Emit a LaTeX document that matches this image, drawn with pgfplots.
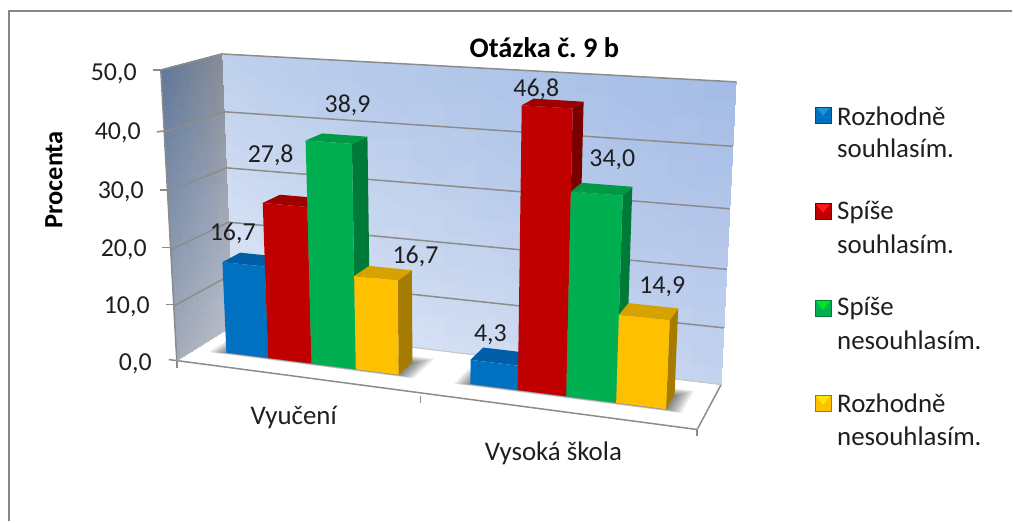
\documentclass[border=0pt]{standalone}
\usepackage{pgfplots}
\pgfplotsset{compat=1.18}
\usepgfplotslibrary{patchplots}
\usepackage{fontspec}
\setmainfont{Carlito}
\frenchspacing
% wall and floor tones
\definecolor{bwTL}{HTML}{BDCFEC}
\definecolor{bwTR}{HTML}{A3BBE6}
\definecolor{bwBL}{HTML}{DFE8F6}
\definecolor{bwBR}{HTML}{C3D2EE}
\definecolor{lwTF}{HTML}{5F7799}
\definecolor{lwTB}{HTML}{868B97}
\definecolor{lwBF}{HTML}{A3ABBA}
\definecolor{lwBB}{HTML}{B8BDC9}
\definecolor{gridc}{HTML}{8C8C8C}
\definecolor{frameC}{HTML}{868686}
% bars: front, top, side
\definecolor{bF}{HTML}{0070C0}\definecolor{bT}{HTML}{005EA6}\definecolor{bS}{HTML}{004A84}
\definecolor{rF}{HTML}{C00000}\definecolor{rT}{HTML}{9E0000}\definecolor{rS}{HTML}{7A0000}
\definecolor{gF}{HTML}{00B050}\definecolor{gT}{HTML}{009A46}\definecolor{gS}{HTML}{007A38}
\definecolor{yF}{HTML}{FFC000}\definecolor{yT}{HTML}{D6A200}\definecolor{yS}{HTML}{A67C00}
% u along the categories, d into the depth, w is the percentage
\pgfplotsset{/pgfplots/table/mapped/.style={row sep=\\,x expr={mapx(\thisrow{u},\thisrow{d},\thisrow{w})},y expr={mapy(\thisrow{u},\thisrow{d},\thisrow{w})}}}
\newcommand\cuboid[6]{% u0,u1,value,front,top,side
 \addplot[fill=#6,draw=none,no markers] table[mapped] {u d w\\ #2 0.34 0\\ #2 0.66 0\\ #2 0.66 #3\\ #2 0.34 #3\\};
 \addplot[fill=#5,draw=none,no markers] table[mapped] {u d w\\ #1 0.34 #3\\ #2 0.34 #3\\ #2 0.66 #3\\ #1 0.66 #3\\};
 \addplot[fill=#4,draw=none,no markers] table[mapped] {u d w\\ #1 0.34 0\\ #2 0.34 0\\ #2 0.34 #3\\ #1 0.34 #3\\};
}
\newcommand\shadowlayer[4]{%
 \addplot[fill=black,fill opacity=0.07,draw=none,no markers] table[mapped] {u d w\\ #1 #3 0\\ #2 #3 0\\ #2 #4 0\\ #1 #4 0\\};
}
\newcommand\wallline[6]{%
 \addplot[gridc,line width=1.5pt,no markers] table[mapped] {u d w\\ #1 #2 #3\\ #4 #5 #6\\};
}
\newcommand\legsq[4]{% y centre, front, light, dark
 \fill[#2] (axis cs:816,#1-8) rectangle (axis cs:832,#1+8);
 \fill[#3] (axis cs:817,#1-7.5) -- (axis cs:831,#1-7.5) -- (axis cs:824,#1+1) -- cycle;
 \draw[#4,line width=0.6pt] (axis cs:816,#1-8) rectangle (axis cs:832,#1+8);
}
\begin{document}
\begin{tikzpicture}
\begin{axis}[scale only axis,width=1013bp,height=522bp,xmin=0,xmax=1013,ymin=0,ymax=522,y dir=reverse,hide axis,clip=false,
 axis background/.style={fill=white},
 declare function={
  warp(\w)=(\w/50)-0.08*(\w/50)*(1-\w/50);
  mapx(\u,\d,\w)=(1-warp(\w))*((1-\d)*((1-\u)*177+\u*698)+\d*((1-\u)*233+\u*722))+warp(\w)*((1-\d)*((1-\u)*161+\u*713)+\d*((1-\u)*222+\u*737));
  mapy(\u,\d,\w)=(1-warp(\w))*((1-\d)*((1-\u)*361+\u*430)+\d*((1-\u)*326+\u*385))+warp(\w)*((1-\d)*((1-\u)*70+\u*103)+\d*((1-\u)*54+\u*82));
 }]
% outer frame, cropped by the picture at right and bottom
\draw[frameC,line width=2.4pt] (axis cs:9,522) -- (axis cs:9,11) -- (axis cs:1013,11);
% walls
\addplot[patch,patch type=rectangle,shader=interp,mesh/color input=explicit,point meta=explicit symbolic]
 table[mapped,meta=c]
 {u d w c\\ 0 1 0 color=bwBL\\ 1 1 0 color=bwBR\\ 1 1 50 color=bwTR\\ 0 1 50 color=bwTL\\};
\addplot[patch,patch type=rectangle,shader=interp,mesh/color input=explicit,point meta=explicit symbolic]
 table[mapped,meta=c]
 {u d w c\\ 0 0 0 color=lwBF\\ 0 1 0 color=lwBB\\ 0 1 50 color=lwTB\\ 0 0 50 color=lwTF\\};
% gridlines: back wall and left wall
\wallline{0}{1}{10}{1}{1}{10}
\wallline{0}{1}{20}{1}{1}{20}
\wallline{0}{1}{30}{1}{1}{30}
\wallline{0}{1}{40}{1}{1}{40}
\wallline{0}{1}{50}{1}{1}{50}
\wallline{0}{0}{10}{0}{1}{10}
\wallline{0}{0}{20}{0}{1}{20}
\wallline{0}{0}{30}{0}{1}{30}
\wallline{0}{0}{40}{0}{1}{40}
\wallline{0}{0}{50}{0}{1}{50}
\wallline{0}{0}{0}{0}{0}{50}
% floor edges
\wallline{0}{0}{0}{1}{0}{0}
\wallline{1}{0}{0}{1}{1}{0}
\addplot[gridc!50,line width=1pt,no markers] table[mapped] {u d w\\ 0 1 0\\ 1 1 0\\};
\addplot[gridc!60,line width=1pt,no markers] table[mapped] {u d w\\ 0 0 0\\ 0 1 0\\};
% shadows on the floor
\shadowlayer{0.030}{0.430}{0.30}{0.80}
\shadowlayer{0.034}{0.426}{0.305}{0.78}
\shadowlayer{0.038}{0.422}{0.31}{0.76}
\shadowlayer{0.042}{0.418}{0.315}{0.74}
\shadowlayer{0.046}{0.414}{0.32}{0.72}
\shadowlayer{0.050}{0.410}{0.325}{0.70}
\shadowlayer{0.054}{0.406}{0.33}{0.68}
\shadowlayer{0.058}{0.402}{0.335}{0.66}
\shadowlayer{0.510}{0.955}{0.30}{0.80}
\shadowlayer{0.514}{0.951}{0.305}{0.78}
\shadowlayer{0.518}{0.947}{0.31}{0.76}
\shadowlayer{0.522}{0.943}{0.315}{0.74}
\shadowlayer{0.526}{0.939}{0.32}{0.72}
\shadowlayer{0.530}{0.935}{0.325}{0.70}
\shadowlayer{0.534}{0.931}{0.33}{0.68}
\shadowlayer{0.538}{0.927}{0.335}{0.66}
% bars
\cuboid{0.060}{0.142}{16.7}{bF}{bT}{bS}
\cuboid{0.142}{0.227}{27.8}{rF}{rT}{rS}
\cuboid{0.227}{0.314}{38.9}{gF}{gT}{gS}
\cuboid{0.314}{0.398}{16.7}{yF}{yT}{yS}
\cuboid{0.539}{0.632}{4.3}{bF}{bT}{bS}
\cuboid{0.632}{0.727}{46.8}{rF}{rT}{rS}
\cuboid{0.727}{0.825}{34.0}{gF}{gT}{gS}
\cuboid{0.825}{0.923}{14.9}{yF}{yT}{yS}
% axis ticks
\draw[gridc,line width=1.5pt] (axis cs:153,70) -- (axis cs:161,70);
\draw[gridc,line width=1.5pt] (axis cs:157,132) -- (axis cs:165,131);
\draw[gridc,line width=1.5pt] (axis cs:160,190) -- (axis cs:168,190);
\draw[gridc,line width=1.5pt] (axis cs:162,248) -- (axis cs:171,248);
\draw[gridc,line width=1.5pt] (axis cs:166,305) -- (axis cs:174,305);
\draw[gridc,line width=1.5pt] (axis cs:169,360) -- (axis cs:177,361);
\draw[gridc,line width=1.5pt] (axis cs:177,361) -- (axis cs:177,368);
\draw[gridc,line width=1.5pt] (axis cs:421,396) -- (axis cs:421,403);
\draw[gridc,line width=1.5pt] (axis cs:698,430) -- (axis cs:698,437);
% texts
\tikzset{t/.style={inner sep=0pt,text=black!88,font=\fontsize{26}{26}\selectfont},
 w/.style={inner sep=0pt,text=black!88,font=\fontsize{27}{27}\selectfont}}
\node[t,anchor=east] at (axis cs:137,74) {50,0};
\node[t,anchor=east] at (axis cs:141,133) {40,0};
\node[t,anchor=east] at (axis cs:144,192) {30,0};
\node[t,anchor=east] at (axis cs:147,250) {20,0};
\node[t,anchor=east] at (axis cs:150,307) {10,0};
\node[t,anchor=east] at (axis cs:152,364) {0,0};
\node[t] at (axis cs:233,234) {16,7};
\node[t] at (axis cs:271,155) {27,8};
\node[t] at (axis cs:348,105) {38,9};
\node[t] at (axis cs:416,257) {16,7};
\node[t] at (axis cs:491,335) {4,3};
\node[t] at (axis cs:537,89) {46,8};
\node[t] at (axis cs:613,160) {34,0};
\node[t] at (axis cs:663,287) {14,9};
\node[w] at (axis cs:294,418) {Vyučení};
\node[w] at (axis cs:554,454) {Vysoká škola};
\node[inner sep=0pt,text=black,font=\fontsize{28.5}{29}\selectfont\bfseries] at (axis cs:545,48) {Otázka č. 9 b};
\node[inner sep=0pt,text=black,rotate=90,font=\fontsize{26.5}{27}\selectfont\bfseries] at (axis cs:54,180) {Procenta};
% legend
\legsq{115}{bF}{cyan!60!bF}{bS}
\legsq{212}{rF}{red!90!white}{rS}
\legsq{309}{gF}{green!70!gF}{gS}
\legsq{404}{yF}{yellow!80!yF}{yS}
\node[w,anchor=west] at (axis cs:838,116) {Rozhodně};
\node[w,anchor=west] at (axis cs:838,148) {souhlasím.};
\node[w,anchor=west] at (axis cs:838,213) {Spíše};
\node[w,anchor=west] at (axis cs:838,245) {souhlasím.};
\node[w,anchor=west] at (axis cs:838,309) {Spíše};
\node[w,anchor=west] at (axis cs:838,341) {nesouhlasím.};
\node[w,anchor=west] at (axis cs:838,404) {Rozhodně};
\node[w,anchor=west] at (axis cs:838,437) {nesouhlasím.};
\end{axis}
\end{tikzpicture}
\end{document}
